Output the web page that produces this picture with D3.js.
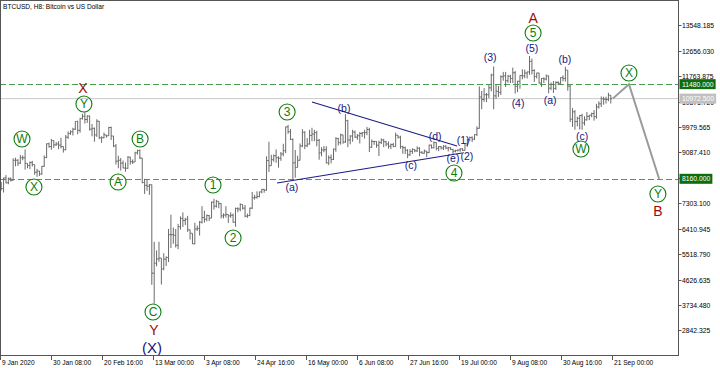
<!DOCTYPE html>
<html><head><meta charset="utf-8">
<script src="https://cdn.jsdelivr.net/npm/d3@7"></script>
<style>body{margin:0;background:#fff}svg{display:block}</style>
</head><body><svg id="c" width="720" height="368"></svg>
<script>
// ---------- DATA ----------
const title = "BTCUSD, H8:  Bitcoin vs US Dollar";
const startDay = "2020-01-09";
// daily highs, lows, closes (Jan 9 .. Sep 20, 2020)
const highs = [
 8050,8200,8290,8200,8200,8880,8900,8850,9000,8980,9190,8700,8770,8790,8660,8510,8440,8610,8980,9400,9430,9560,9510,
 9450,9480,9600,9300,9700,9820,9860,9950,10180,10200,10300,10440,10500,10390,10380,10080,9960,10250,10190,9650,9780,9700,9980,9990,9660,9380,8970,8890,8800,
 8730,8950,8930,8840,9110,9180,9190,8890,8160,8140,7980,7960,5950,5650,5950,5380,5550,5440,6400,6900,6450,6400,6580,6840,6980,6790,6860,6380,6250,6620,6520,
 6680,7200,7040,6910,6890,7360,7460,7420,7370,7300,6950,7200,6910,6980,6940,7150,7160,7300,7260,7240,6940,7150,7700,7600,7720,7710,7800,7800,8950,9460,
 9000,9010,9190,8950,9100,9390,9990,10050,9910,9580,9170,8970,9400,9900,9830,9590,9880,9950,9880,9840,9560,9270,9310,9300,8980,9010,9220,9620,9600,9740,9700,
 10430,10230,9690,9880,9850,9730,9800,9800,9880,9980,9950,9540,9490,9480,9500,9580,9560,9490,9470,9400,9420,9780,9690,9670,9320,9290,9200,9200,9230,9200,
 9300,9270,9130,9190,9140,9360,9360,9470,9440,9310,9310,9340,9340,9280,9270,9210,9180,9190,9240,9230,9420,9560,9640,9650,9720,10000,11400,11240,11340,11170,11450,
 11850,12100,11480,11420,11790,11910,11910,11800,11810,12060,11940,11600,11790,12000,11990,11920,12470,12380,12000,11880,11880,11690,11720,11820,11780,11540,11590,11580,11580,11720,11790,
 12090,11960,11460,10640,10570,10340,10400,10440,10350,10500,10400,10480,10570,10790,10880,11050,11040,11040,11180,11090
];
const lows = [
 7750,7680,8000,7970,8060,8100,8600,8610,8680,8810,8480,8530,8500,8590,8300,8230,8260,8300,8580,8880,9250,9180,9240,
 9320,9200,9230,9080,9160,9560,9700,9680,9870,9720,9780,10240,10100,10120,9850,9650,9460,9630,9550,9420,9580,9600,9660,9520,9270,8660,8530,8450,8530,
 8410,8510,8660,8680,8750,9010,8850,8000,7630,7740,7600,4440,3780,5090,5250,4450,4950,5100,5240,5730,5880,5750,5690,6380,6470,6540,6300,6030,5870,5860,6330,
 6170,6590,6620,6670,6680,6780,7080,7150,7130,6770,6770,6800,6610,6790,6620,6480,6990,7020,7080,6810,6790,6850,7100,7430,7460,7510,7650,7670,7740,8400,
 8620,8760,8720,8550,8790,8950,9060,9740,9520,8100,8200,8560,8800,9270,9200,9270,9360,9480,9480,9300,8830,8950,9090,8700,8640,8700,8820,9110,9330,9360,9390,
 9420,9270,9370,9460,9600,9530,9400,9630,9570,9690,9100,9240,9350,9250,8960,9380,9270,9300,9220,9200,9270,9280,9570,9210,9040,9030,8880,8960,9030,9090,
 9100,8950,9040,9040,8920,9060,9220,9230,9160,9130,9190,9170,9200,9120,9170,9010,9090,9120,9110,9140,9150,9280,9480,9450,9520,9660,9920,10600,10860,10850,10990,
 11230,10600,10960,11030,11100,11600,11380,11530,11520,11520,11150,11200,11320,11650,11690,11680,11810,11820,11560,11680,11500,11380,11520,11610,11160,11270,11170,11280,11450,11480,11580,
 11570,11250,10150,9980,9880,10000,9890,9880,10030,10200,10220,10320,10200,10270,10620,10680,10760,10800,10880,10800
];
const closes = [
 7820,8190,8020,8180,8110,8810,8810,8710,8900,8900,8700,8630,8730,8660,8390,8430,8330,8600,8910,9390,9290,9500,9350,
 9380,9340,9290,9180,9620,9750,9810,9900,10170,9860,10270,10350,10240,10360,9900,9930,9700,10180,9600,9600,9700,9670,9960,9660,9310,8780,8810,8710,8540,
 8530,8920,8760,8750,9070,9150,8890,8030,7930,7900,7950,4850,5200,5350,5380,5000,5340,5400,6200,6200,6180,5830,6480,6770,6700,6740,6370,6250,5880,6400,6420,
 6640,6800,6740,6870,6780,7340,7200,7370,7290,6860,6890,6910,6860,6880,6640,7120,7100,7260,7130,6850,6870,7130,7490,7510,7540,7700,7790,7760,8800,8620,
 8830,8970,8900,8880,9030,9150,9980,9810,9540,8720,8560,8810,9310,9790,9320,9380,9680,9730,9780,9510,9070,9170,9180,8720,8900,8840,9200,9570,9430,9700,9450,
 10200,9520,9660,9800,9620,9670,9750,9780,9780,9890,9270,9470,9470,9340,9430,9520,9460,9380,9300,9360,9290,9690,9620,9290,9250,9160,9000,9120,9190,9140,
 9230,9090,9060,9130,9080,9340,9250,9430,9230,9290,9240,9300,9240,9250,9190,9130,9150,9170,9210,9160,9390,9540,9610,9550,9710,9930,11030,10940,11110,11110,11350,
 11800,11070,11230,11190,11740,11770,11600,11760,11680,11880,11400,11580,11780,11770,11870,11910,12280,11960,11750,11870,11520,11680,11660,11770,11340,11470,11330,11540,11510,11710,11680,
 11970,11410,10250,10510,10170,10280,10380,10120,10230,10350,10390,10450,10340,10680,10790,10970,10950,10940,11090,10972.5
];
const firstOpen = 7980;

const yTickValues = [2842.325,3734.480,4626.635,5518.790,6410.945,7303.100,8195.255,9087.410,9979.565,10871.720,11763.875,12656.030,13548.185];
const xTickDates = ["2020-01-09T00:00Z","2020-01-30T08:00Z","2020-02-20T16:00Z","2020-03-13T00:00Z","2020-04-03T08:00Z","2020-04-24T16:00Z","2020-05-16T00:00Z","2020-06-06T08:00Z","2020-06-27T16:00Z","2020-07-19T00:00Z","2020-08-09T08:00Z","2020-08-30T16:00Z","2020-09-21T00:00Z"];
const xTickLabels = ["9 Jan 2020","30 Jan 08:00","20 Feb 16:00","13 Mar 00:00","3 Apr 08:00","24 Apr 16:00","16 May 00:00","6 Jun 08:00","27 Jun 16:00","19 Jul 00:00","9 Aug 08:00","30 Aug 16:00","21 Sep 00:00"];

const levelPrices = [11480, 8160];
const currentPrice = 10972.5;

// wave labels: [text, day offset from start, price]
const circledLabels = [["W",9.2,9556],["X",14.2,7872],["Y",35.1,10784],["A",49.4,8048],["B",58.6,9556],["C",64.0,3488],
  ["1",89.1,7942],["2",97.5,6083],["3",120.1,10503],["4",189.9,8363],["5",223.0,13274],["W",243.0,9205],["X",263.1,11871],["Y",275.2,7627]];
const redLabels = [["X",34.7,11345],["Y",64.4,2856],["A",223.0,13801],["B",275.2,7030]];
const blueLabels = [["(a)",122.1,7872],["(b)",143.9,10644],["(c)",171.9,8644],["(d)",182.0,9661],["(e)",189.5,8890],
  ["(1)",193.7,9521],["(2)",195.3,8960],["(3)",205.0,12433],["(4)",216.7,10819],["(5)",222.5,12748],
  ["(a)",230.1,10924],["(b)",236.3,12362],["(c)",243.5,9661]];
const bigBlueLabels = [["(X)",63.6,2225]];
const triangleUpper = [[130.5,10854],[191.2,9311]];
const triangleLower = [[115.9,8013],[193.3,9065]];
const projection = [[256.3,10972.5],[263.1,11480],[275.7,8160]];

// ---------- CHART ----------
const svg = d3.select("#c");
const W = 678.5, H = 355.5;
const t0 = new Date(startDay + "T00:00Z");
const dayDate = d => new Date(t0.getTime() + d * 86400000);
const x = d3.scaleUtc().domain([new Date("2020-01-09T00:00Z"), new Date("2020-09-21T00:00Z")]).range([0, 612]);
const y = d3.scaleLinear().domain([2842.325, 13548.185]).range([330.4, 25.2]);
const font = "'Liberation Sans', Arial, sans-serif";

// frame
svg.append("rect").attr("x",0.5).attr("y",0.5).attr("width",W-0.5).attr("height",H-0.5)
  .attr("fill","none").attr("stroke","#555");

const plot = svg.append("g");
plot.append("clipPath").attr("id","clip").append("rect").attr("x",1).attr("y",1).attr("width",W-1.5).attr("height",H-1.5);
const pg = plot.append("g").attr("clip-path","url(#clip)");

// level lines
pg.append("line").attr("x1",0).attr("x2",W).attr("y1",y(currentPrice)).attr("y2",y(currentPrice))
  .attr("stroke","#c8c8c8").attr("stroke-width",1);
levelPrices.forEach(p=>{
  pg.append("line").attr("x1",0).attr("x2",W).attr("y1",Math.round(y(p))+0.5).attr("y2",Math.round(y(p))+0.5)
    .attr("stroke","#4c9f4c").attr("stroke-width",1).attr("stroke-dasharray","6,3");
});

// OHLC bars
const n = Math.min(highs.length, lows.length, closes.length);
const bars = d3.range(n).map(i=>({i, h:highs[i], l:lows[i], c:closes[i], o: i===0?firstOpen:closes[i-1]}));
const bg = pg.append("g").attr("stroke","#6a6a6a").attr("stroke-width",1);
bars.forEach(b=>{
  const cx = x(dayDate(b.i + 0.5));
  const hi = Math.max(b.h,b.o,b.c), lo = Math.min(b.l,b.o,b.c);
  bg.append("line").attr("x1",cx).attr("x2",cx).attr("y1",y(hi)).attr("y2",y(lo));
  bg.append("line").attr("x1",cx-1.2).attr("x2",cx).attr("y1",y(b.o)).attr("y2",y(b.o));
  bg.append("line").attr("x1",cx).attr("x2",cx+1.2).attr("y1",y(b.c)).attr("y2",y(b.c));
});

// triangle lines
const ln = d3.line().x(d=>x(dayDate(d[0]))).y(d=>y(d[1]));
[triangleUpper, triangleLower].forEach(tl=>{
  pg.append("path").attr("d",ln(tl)).attr("fill","none").attr("stroke","#1c1c86").attr("stroke-width",1.1);
});
// projection
pg.append("path").attr("d",ln(projection)).attr("fill","none").attr("stroke","#9a9a9a").attr("stroke-width",2);

// wave labels
circledLabels.forEach(([t,d,p])=>{
  const g = pg.append("g").attr("transform",`translate(${x(dayDate(d))},${y(p)})`);
  g.append("circle").attr("r",8).attr("fill","none").attr("stroke","#0f7d0f").attr("stroke-width",1.1);
  g.append("text").text(t).attr("text-anchor","middle").attr("dy","0.36em")
    .attr("font-family",font).attr("font-size",t.match(/[0-9]/)?"12px":"12px").attr("fill","#0f7d0f");
});
redLabels.forEach(([t,d,p])=>{
  pg.append("text").text(t).attr("x",x(dayDate(d))).attr("y",y(p)).attr("dy","0.36em").attr("text-anchor","middle")
    .attr("font-family",font).attr("font-size","14px").attr("fill","#9c0b0b");
});
blueLabels.forEach(([t,d,p])=>{
  pg.append("text").text(t).attr("x",x(dayDate(d))).attr("y",y(p)).attr("dy","0.36em").attr("text-anchor","middle")
    .attr("font-family",font).attr("font-size","10.5px").attr("fill","#16167e");
});
bigBlueLabels.forEach(([t,d,p])=>{
  pg.append("text").text(t).attr("x",x(dayDate(d))).attr("y",y(p)).attr("dy","0.36em").attr("text-anchor","middle")
    .attr("font-family",font).attr("font-size","15px").attr("fill","#16167e");
});

// title
svg.append("text").text(title).attr("x",3).attr("y",9).attr("font-family",font).attr("font-size","6.6px").attr("fill","#000");

// y axis ticks & labels
yTickValues.forEach(v=>{
  const yy = Math.round(y(v))+0.5;
  svg.append("line").attr("x1",W).attr("x2",W+3).attr("y1",yy).attr("y2",yy).attr("stroke","#555");
  svg.append("text").text(v.toFixed(3)).attr("x",W+3.5).attr("y",yy).attr("dy","0.35em")
    .attr("font-family",font).attr("font-size","6.8px").attr("fill","#000");
});
// price boxes
function priceBox(p, fill){
  const yy = y(p);
  const txt = svg.append("text").text(p.toFixed(3)).attr("x",W+3.5).attr("y",yy).attr("dy","0.35em")
    .attr("font-family",font).attr("font-size","6.8px").attr("fill","#fff");
  const w = txt.node().getComputedTextLength();
  svg.insert("rect", () => txt.node()).attr("x",W+1).attr("y",yy-5).attr("width",w+4.5).attr("height",10).attr("fill",fill);
}
priceBox(11480, "#0c6e0c");
priceBox(currentPrice, "#c0c0c0");
priceBox(8160, "#0c6e0c");

// x axis ticks & labels
xTickDates.forEach((ds,i)=>{
  const xx = Math.round(x(new Date(ds)))+0.5;
  svg.append("line").attr("x1",xx).attr("x2",xx).attr("y1",H).attr("y2",H+4.5).attr("stroke","#555");
  svg.append("text").text(xTickLabels[i]).attr("x",xx+1.5).attr("y",H+9.5)
    .attr("font-family",font).attr("font-size","6.6px").attr("fill","#000");
});
</script></body></html>
